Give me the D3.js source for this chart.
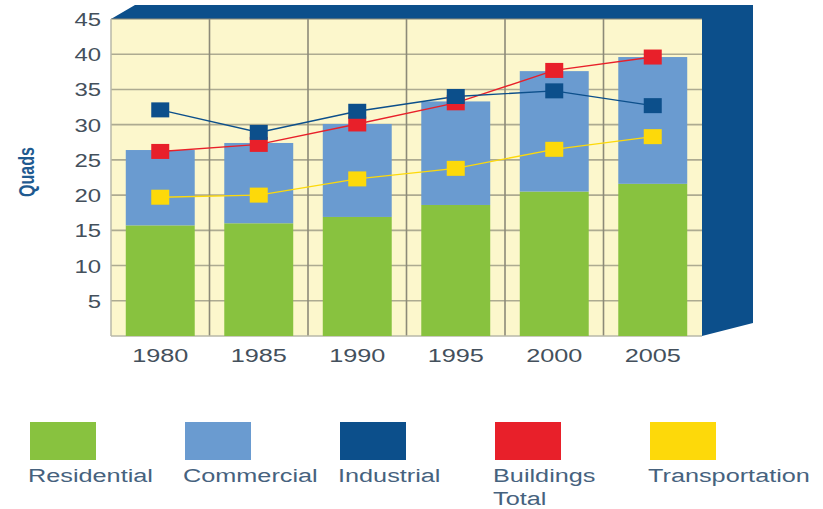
<!DOCTYPE html>
<html>
<head>
<meta charset="utf-8">
<script src="https://cdn.jsdelivr.net/npm/d3@7"></script>
<style>
  html, body { margin: 0; padding: 0; background: #fff; }
  svg { display: block; }
  text { font-family: "Liberation Sans", Arial, sans-serif; }
</style>
</head>
<body>
<svg id="chart" width="823" height="509"></svg>
<script>
(function() {
  'use strict';

  var years = ['1980', '1985', '1990', '1995', '2000', '2005'];
  var residential = [15.7, 16.0, 16.9, 18.6, 20.5, 21.6];
  var commercial = [10.7, 11.4, 13.2, 14.7, 17.1, 18.0];
  var industrial = [32.1, 28.9, 31.9, 34.0, 34.8, 32.7];
  var buildingsTotal = [26.2, 27.2, 30.1, 33.1, 37.7, 39.6];
  var transportation = [19.7, 20.0, 22.3, 23.8, 26.5, 28.3];
  var yTicks = [5, 10, 15, 20, 25, 30, 35, 40, 45];
  var legendNames = ['Residential', 'Commercial', 'Industrial', 'Buildings Total', 'Transportation'];

  var colors = {
    residential: '#88c23f',
    commercial: '#6a9bd0',
    industrial: '#0c4f8b',
    total: '#e8202a',
    transportation: '#fdd90a'
  };
  var legendColors = [colors.residential, colors.commercial, colors.industrial, colors.total, colors.transportation];

  var svg = d3.select('#chart');
  var left = 111, right = 702, top = 19, bottom = 336;

  var x = d3.scaleBand().domain(years).range([left, right])
    .paddingInner(0.3).paddingOuter(0.15);
  var y = d3.scaleLinear().domain([0, 45]).range([bottom, top]);

  // 3D frame behind the plot
  svg.append('polygon')
    .attr('points', [[left, top], [left + 24, top - 14], [right + 51, top - 14],
      [right + 51, bottom - 13], [right, bottom], [right, top]].join(' '))
    .attr('fill', colors.industrial);

  // plot background
  svg.append('rect')
    .attr('x', left).attr('y', top)
    .attr('width', right - left).attr('height', bottom - top)
    .attr('fill', '#fcf7cc');

  // grid
  var grid = svg.append('g').attr('stroke', '#8c8a78').attr('stroke-width', 1.6);
  grid.selectAll('line.h').data(yTicks).enter().append('line')
    .attr('class', 'h')
    .attr('x1', left).attr('x2', right)
    .attr('y1', function(d) { return y(d); })
    .attr('y2', function(d) { return y(d); })
    .attr('stroke-opacity', 0.7);
  grid.selectAll('line.v').data(years.slice(1)).enter().append('line')
    .attr('class', 'v')
    .attr('x1', function(d) { return x(d) - x.step() * x.paddingInner() / 2; })
    .attr('x2', function(d) { return x(d) - x.step() * x.paddingInner() / 2; })
    .attr('y1', top).attr('y2', bottom);
  svg.append('line')
    .attr('x1', left).attr('x2', left).attr('y1', top).attr('y2', bottom)
    .attr('stroke', '#b8b8a8').attr('stroke-width', 1.5);
  svg.append('line')
    .attr('x1', left).attr('x2', right).attr('y1', bottom).attr('y2', bottom)
    .attr('stroke', '#b8b8a8').attr('stroke-width', 1.5);

  // stacked bars
  var rows = years.map(function(yr, i) {
    return { year: yr, residential: residential[i], commercial: commercial[i] };
  });
  var stack = d3.stack().keys(['residential', 'commercial'])(rows);
  svg.selectAll('g.layer').data(stack).enter().append('g')
    .attr('class', 'layer')
    .attr('fill', function(d) { return colors[d.key]; })
    .selectAll('rect').data(function(d) { return d; }).enter().append('rect')
    .attr('x', function(d) { return x(d.data.year); })
    .attr('width', x.bandwidth())
    .attr('y', function(d) { return y(d[1]); })
    .attr('height', function(d) { return y(d[0]) - y(d[1]); });

  // lines with square markers
  var series = [
    { values: buildingsTotal, color: colors.total },
    { values: industrial, color: colors.industrial },
    { values: transportation, color: colors.transportation }
  ];
  var line = d3.line()
    .x(function(d, i) { return x(years[i]) + x.bandwidth() / 2; })
    .y(function(d) { return y(d); });
  var mw = 18, mh = 15;
  series.forEach(function(s) {
    svg.append('path')
      .attr('d', line(s.values))
      .attr('fill', 'none')
      .attr('stroke', s.color)
      .attr('stroke-width', 1.4);
  });
  series.forEach(function(s) {
    svg.append('g').selectAll('rect').data(s.values).enter().append('rect')
      .attr('x', function(d, i) { return x(years[i]) + x.bandwidth() / 2 - mw / 2; })
      .attr('y', function(d) { return y(d) - mh / 2; })
      .attr('width', mw).attr('height', mh)
      .attr('fill', s.color);
  });

  // text helper (the source art is stretched sideways)
  var sx = 1.33;
  function label(g, tx, ty, txt, anchor, size, fill) {
    return g.append('text')
      .attr('transform', 'translate(' + tx + ',' + ty + ') scale(' + sx + ',1)')
      .attr('text-anchor', anchor)
      .attr('font-size', size)
      .attr('fill', fill)
      .text(txt);
  }

  // y tick labels
  var yt = svg.append('g');
  yTicks.forEach(function(t) {
    label(yt, left - 10, y(t) + 7, t, 'end', 18, '#44505c');
  });

  // x tick labels
  var xt = svg.append('g');
  years.forEach(function(yr) {
    label(xt, x(yr) + x.bandwidth() / 2, 362, yr, 'middle', 19, '#44505c');
  });

  // y axis title
  svg.append('text')
    .attr('transform', 'translate(34,172) rotate(-90) scale(1,1.4)')
    .attr('text-anchor', 'middle')
    .attr('font-size', 16)
    .attr('font-weight', 'bold')
    .attr('fill', '#1f5a90')
    .text('Quads');

  // legend
  var lg = svg.append('g');
  legendNames.forEach(function(name, i) {
    var lx = 30 + i * 155;
    lg.append('rect')
      .attr('x', lx).attr('y', 422)
      .attr('width', 66).attr('height', 38)
      .attr('fill', legendColors[i]);
    var words = name === 'Buildings Total' ? ['Buildings', 'Total'] : [name];
    words.forEach(function(w, j) {
      label(lg, lx - 2, 482 + j * 23, w, 'start', 19, '#46627e');
    });
  });
})();
</script>
</body>
</html>
